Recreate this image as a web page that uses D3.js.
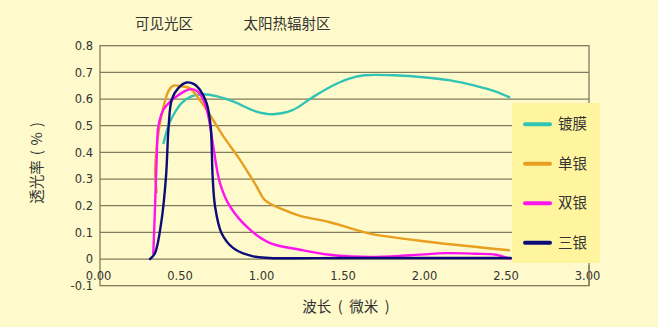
<!DOCTYPE html>
<html>
<head>
<meta charset="utf-8">
<script src="https://cdn.jsdelivr.net/npm/d3@7"></script>
<style>
  html, body { margin: 0; padding: 0; background: #fffacb; }
  svg { display: block; }
  text { font-family: "DejaVu Sans", "Noto Sans CJK SC", sans-serif; fill: #333; }
  .cjk { font-family: "Noto Sans CJK SC", "DejaVu Sans", sans-serif; }
</style>
</head>
<body>
<svg id="chart" width="658" height="327"></svg>
<script>
// Transmittance (%) versus wavelength (µm) for four glass coatings
const seriesNames = ["镀膜", "单银", "双银", "三银"];
const seriesColors = ["#30c4b4", "#e89e1e", "#ff14f0", "#0c0c78"];

const coatedX = [0.39, 0.42, 0.45, 0.50, 0.56, 0.63, 0.72, 0.82, 0.95, 1.06, 1.18, 1.30, 1.42, 1.52, 1.62, 1.80, 2.00, 2.15, 2.30, 2.42, 2.51];
const coatedY = [0.435, 0.50, 0.54, 0.585, 0.61, 0.618, 0.61, 0.59, 0.555, 0.543, 0.558, 0.605, 0.648, 0.675, 0.689, 0.689, 0.681, 0.67, 0.65, 0.63, 0.607];

const singleX = [0.347, 0.338, 0.345, 0.36, 0.385, 0.42, 0.45, 0.50, 0.552, 0.60, 0.654, 0.757, 0.859, 0.961, 1.01, 1.125, 1.227, 1.41, 1.534, 1.656, 2.025, 2.51];
const singleY = [0.25, 0.33, 0.40, 0.48, 0.56, 0.63, 0.65, 0.648, 0.64, 0.607, 0.56, 0.46, 0.372, 0.272, 0.222, 0.185, 0.162, 0.138, 0.116, 0.095, 0.064, 0.033];

const doubleX = [0.327, 0.337, 0.348, 0.358, 0.389, 0.43, 0.47, 0.52, 0.562, 0.60, 0.634, 0.665, 0.695, 0.736, 0.798, 0.92, 1.043, 1.227, 1.41, 1.656, 1.90, 2.127, 2.30, 2.43, 2.515];
const doubleY = [0.02, 0.185, 0.38, 0.497, 0.56, 0.59, 0.61, 0.63, 0.637, 0.628, 0.597, 0.535, 0.422, 0.285, 0.197, 0.11, 0.06, 0.035, 0.016, 0.008, 0.014, 0.022, 0.02, 0.016, 0.001];

const tripleX = [0.307, 0.337, 0.378, 0.405, 0.421, 0.44, 0.48, 0.532, 0.58, 0.613, 0.654, 0.679, 0.691, 0.706, 0.746, 0.818, 0.94, 1.04, 1.5, 2.0, 2.52];
const tripleY = [0, 0.022, 0.147, 0.31, 0.497, 0.597, 0.641, 0.662, 0.655, 0.635, 0.585, 0.497, 0.31, 0.197, 0.097, 0.041, 0.01, 0.004, 0.004, 0.004, 0.004];

const xTicks = [0, 0.5, 1, 1.5, 2, 2.5, 3];
const xTickLabels = ["0.00", "0.50", "1.00", "1.50", "2.00", "2.50", "3.00"];
const yTicks = [-0.1, 0, 0.1, 0.2, 0.3, 0.4, 0.5, 0.6, 0.7, 0.8];
const yTickLabels = ["-0.1", "0", "0.1", "0.2", "0.3", "0.4", "0.5", "0.6", "0.7", "0.8"];
const regionLabels = ["可见光区", "太阳热辐射区"];
const yTitle = "透光率 ( % )";
const xTitle = "波长 ( 微米 )";

const xs = [coatedX, singleX, doubleX, tripleX];
const ys = [coatedY, singleY, doubleY, tripleY];

const svg = d3.select("#chart");
const W = 658, H = 327;
svg.append("rect").attr("width", W).attr("height", H).attr("fill", "#fffacb");

const x = d3.scaleLinear().domain([0, 3]).range([100, 589]);
const y = d3.scaleLinear().domain([-0.1, 0.8]).range([285.7, 45.7]);

const gridColor = "#807b5e";

// horizontal grid lines
svg.append("g").selectAll("line")
  .data(yTicks.filter(v => v > -0.1 && v < 0.8))
  .join("line")
  .attr("x1", x(0)).attr("x2", x(3))
  .attr("y1", d => y(d)).attr("y2", d => y(d))
  .attr("stroke", gridColor).attr("stroke-width", 1.3);

// plot frame
svg.append("rect")
  .attr("x", x(0)).attr("y", y(0.8))
  .attr("width", x(3) - x(0)).attr("height", y(-0.1) - y(0.8))
  .attr("fill", "none").attr("stroke", gridColor).attr("stroke-width", 1.3);

// y axis labels
const yAxis = d3.axisLeft(y).tickValues(yTicks).tickSize(0).tickPadding(7)
  .tickFormat((d, i) => yTickLabels[i]);
const gy = svg.append("g").attr("transform", `translate(${x(0)},0)`).call(yAxis);
gy.select(".domain").remove();
gy.selectAll("text").attr("font-size", 11.5).attr("font-family", "DejaVu Sans").attr("fill", "#333");

// x axis labels, sitting between the zero line and the bottom edge
const xAxis = d3.axisBottom(x).tickValues(xTicks).tickSize(0).tickPadding(0)
  .tickFormat((d, i) => xTickLabels[i]);
const gx = svg.append("g").attr("transform", `translate(0,${y(0)})`).call(xAxis);
gx.select(".domain").remove();
gx.selectAll("text").attr("font-size", 11.5).attr("font-family", "DejaVu Sans").attr("fill", "#333")
  .attr("dy", "1.8em").attr("dx", -2);
// tick mark at the right end crossing the last label
svg.append("line").attr("x1", x(3)).attr("x2", x(3)).attr("y1", y(0) + 6).attr("y2", y(-0.1))
  .attr("stroke", gridColor).attr("stroke-width", 1.3);

// curves
const line = d3.line()
  .x(d => x(d[0])).y(d => y(d[1]))
  .curve(d3.curveCatmullRom.alpha(0.5));

seriesNames.forEach((name, k) => {
  const pts = xs[k].map((v, i) => [v, ys[k][i]]);
  svg.append("path").datum(pts)
    .attr("d", line)
    .attr("fill", "none")
    .attr("stroke", seriesColors[k])
    .attr("stroke-width", 2.4)
    .attr("stroke-linejoin", "round")
    .attr("stroke-linecap", "round");
});

// region headings
svg.append("text").attr("class", "cjk").attr("x", 164).attr("y", 29)
  .attr("text-anchor", "middle").attr("font-size", 14.5).text(regionLabels[0]);
svg.append("text").attr("class", "cjk").attr("x", 287).attr("y", 29)
  .attr("text-anchor", "middle").attr("font-size", 14.5).text(regionLabels[1]);

// title laid out glyph by glyph, with roomy spaces around the brackets
function spacedTitle(parent, str, size, gap) {
  const g = parent.append("g");
  let cursor = 0;
  for (const ch of str) {
    if (ch === " ") { cursor += gap; continue; }
    const t = g.append("text").attr("class", "cjk").attr("font-size", size)
      .attr("text-anchor", "middle").text(ch);
    const wide = /[\u3000-\u9fff\uff00-\uffef]/.test(ch);
    const w = wide ? size : t.node().getComputedTextLength();
    t.attr("x", cursor + w / 2);
    cursor += w;
  }
  const half = cursor / 2;
  g.selectAll("text").attr("x", function () { return +this.getAttribute("x") - half; });
  return g;
}

// axis titles
spacedTitle(svg, yTitle, 14.5, 5).attr("transform", "translate(42,163) rotate(-90)");
spacedTitle(svg, xTitle, 14.5, 6.5).attr("transform", "translate(346,312)");

// legend
const lg = svg.append("g");
lg.append("rect").attr("x", 512).attr("y", 103).attr("width", 88).attr("height", 160)
  .attr("fill", "#fff59e");
seriesNames.forEach((name, k) => {
  const cy = 124.3 + k * 39.5;
  lg.append("line").attr("x1", 525).attr("x2", 550).attr("y1", cy).attr("y2", cy)
    .attr("stroke", seriesColors[k]).attr("stroke-width", 4).attr("stroke-linecap", "round");
  lg.append("text").attr("class", "cjk").attr("x", 558).attr("y", cy + 5)
    .attr("font-size", 14.5).text(name);
});
</script>
</body>
</html>
